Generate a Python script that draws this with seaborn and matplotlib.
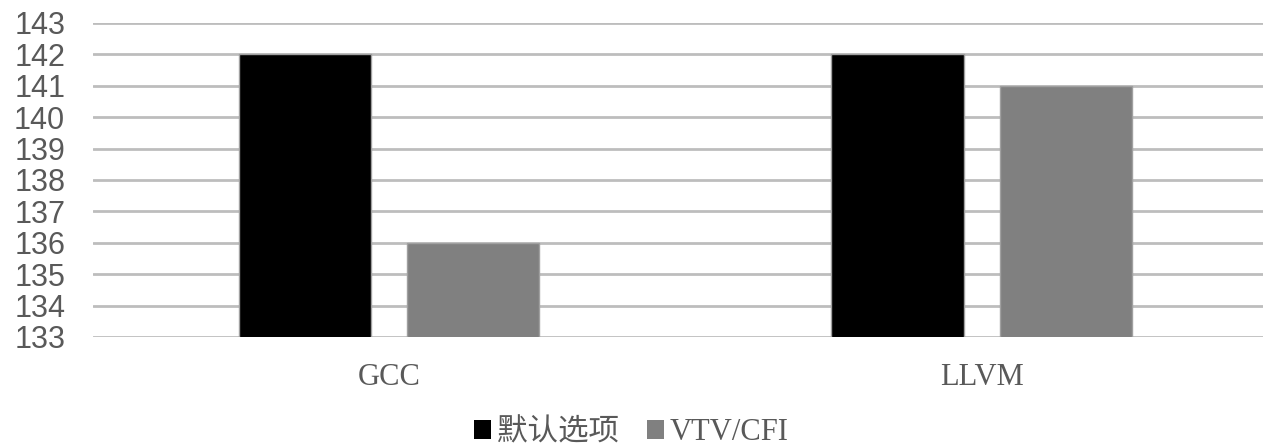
import matplotlib
matplotlib.use("Agg")
import matplotlib.pyplot as plt
import seaborn as sns
import pandas as pd
from matplotlib.patches import Patch

categories = ["GCC", "LLVM"]
series_names = ["默认选项", "VTV/CFI"]
default_vals = [142, 142]
vtv_vals = [136, 141]
y_ticks = list(range(133, 144))
colors = ["#000000", "#808080"]

df = pd.DataFrame({
    "cat": categories * 2,
    "series": [series_names[0]] * 2 + [series_names[1]] * 2,
    "val": default_vals + vtv_vals,
})

sns.set_theme(style="white")
plt.rcParams['font.family'] = ['Liberation Sans', 'Noto Sans CJK SC', 'DejaVu Sans']

fig = plt.figure(figsize=(12.63, 4.48), dpi=100)
ax = fig.add_axes([93/1263, 1-337/448, 1-93/1263, (337-23)/448])

sns.barplot(data=df, x="cat", y="val", hue="series", palette=colors,
            width=0.568, gap=0.214, edgecolor="#a0a0a0", linewidth=1,
            ax=ax, legend=False, errorbar=None, zorder=3)

ax.set_ylim(133, 143)
ax.set_xlim(-0.5, 1.475)
ax.set_yticks(y_ticks)
ax.set_yticklabels([str(t) for t in y_ticks], fontsize=22, color="#595959",
                   family=['Liberation Sans', 'DejaVu Sans'])
ax.set_xticks(range(len(categories)))
ax.set_xticklabels(categories, fontsize=22, color="#595959",
                   family=['Liberation Serif', 'DejaVu Serif'])
ax.tick_params(axis='y', length=0, pad=20)
ax.tick_params(axis='x', length=0, pad=19)
ax.set_xlabel("")
ax.set_ylabel("")
for s in ax.spines.values():
    s.set_visible(False)
ax.grid(axis='y', color="#bdbdbd", linewidth=2, zorder=0)
ax.set_axisbelow(True)

handles = [Patch(facecolor=colors[i], edgecolor="none", label=series_names[i]) for i in range(2)]
fig.legend(handles=handles, loc="lower center", bbox_to_anchor=(0.5, -0.06), ncol=2,
           frameon=False, handlelength=0.55, handleheight=0.55, handletextpad=0.2,
           columnspacing=0.9,
           prop={'family': ['Liberation Serif', 'Noto Sans CJK SC'], 'size': 22},
           labelcolor="#595959")

fig.savefig("out.png", dpi=100)
